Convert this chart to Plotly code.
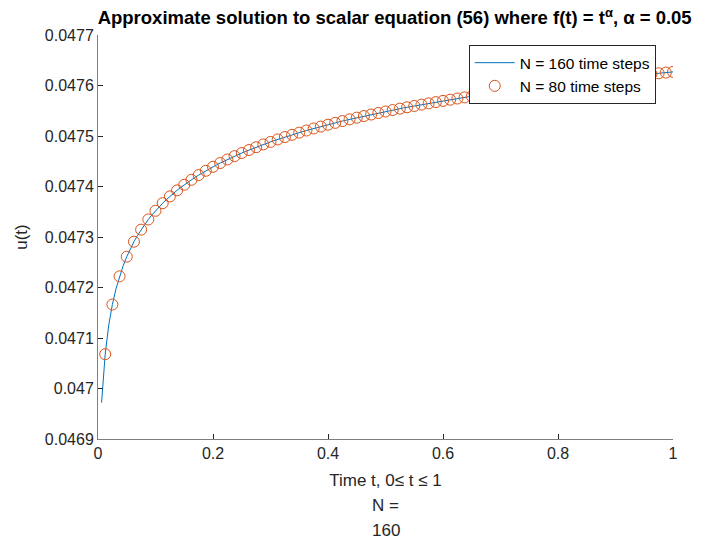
import plotly.graph_objects as go

# N = 80 time steps (circles), t = k/80, k = 1..80
t80 = [k / 80 for k in range(1, 81)]
u80 = [
    0.0470680, 0.0471663, 0.0472221, 0.0472610, 0.0472907, 0.0473146, 0.0473347, 0.0473519,
    0.0473670, 0.0473804, 0.0473924, 0.0474034, 0.0474133, 0.0474226, 0.0474311, 0.0474390,
    0.0474465, 0.0474535, 0.0474601, 0.0474663, 0.0474722, 0.0474778, 0.0474833, 0.0474883,
    0.0474932, 0.0474979, 0.0475024, 0.0475067, 0.0475109, 0.0475149, 0.0475187, 0.0475224,
    0.0475260, 0.0475296, 0.0475329, 0.0475363, 0.0475395, 0.0475425, 0.0475456, 0.0475485,
    0.0475514, 0.0475542, 0.0475569, 0.0475595, 0.0475621, 0.0475646, 0.0475671, 0.0475695,
    0.0475719, 0.0475742, 0.0475764, 0.0475787, 0.0475808, 0.0475830, 0.0475851, 0.0475871,
    0.0475891, 0.0475911, 0.0475930, 0.0475949, 0.0475967, 0.0475985, 0.0476004, 0.0476021,
    0.0476039, 0.0476056, 0.0476073, 0.0476089, 0.0476106, 0.0476121, 0.0476137, 0.0476154,
    0.0476169, 0.0476184, 0.0476199, 0.0476213, 0.0476228, 0.0476242, 0.0476256, 0.0476270,
]

# N = 160 time steps (line), t = j/160, j = 1..160
t160 = [j / 160 for j in range(1, 161)]
u160 = [
    0.0469720, 0.0470680, 0.0471260, 0.0471663, 0.0471973, 0.0472221, 0.0472431, 0.0472610,
    0.0472768, 0.0472907, 0.0473032, 0.0473146, 0.0473251, 0.0473347, 0.0473436, 0.0473519,
    0.0473596, 0.0473670, 0.0473738, 0.0473804, 0.0473865, 0.0473924, 0.0473980, 0.0474034,
    0.0474085, 0.0474133, 0.0474181, 0.0474226, 0.0474269, 0.0474311, 0.0474351, 0.0474390,
    0.0474428, 0.0474465, 0.0474500, 0.0474535, 0.0474568, 0.0474601, 0.0474632, 0.0474663,
    0.0474693, 0.0474722, 0.0474750, 0.0474778, 0.0474806, 0.0474833, 0.0474858, 0.0474883,
    0.0474908, 0.0474932, 0.0474956, 0.0474979, 0.0475002, 0.0475024, 0.0475046, 0.0475067,
    0.0475088, 0.0475109, 0.0475129, 0.0475149, 0.0475168, 0.0475187, 0.0475206, 0.0475224,
    0.0475242, 0.0475260, 0.0475278, 0.0475296, 0.0475313, 0.0475329, 0.0475346, 0.0475363,
    0.0475379, 0.0475395, 0.0475410, 0.0475425, 0.0475441, 0.0475456, 0.0475471, 0.0475485,
    0.0475500, 0.0475514, 0.0475528, 0.0475542, 0.0475556, 0.0475569, 0.0475582, 0.0475595,
    0.0475608, 0.0475621, 0.0475634, 0.0475646, 0.0475659, 0.0475671, 0.0475683, 0.0475695,
    0.0475707, 0.0475719, 0.0475731, 0.0475742, 0.0475753, 0.0475764, 0.0475776, 0.0475787,
    0.0475798, 0.0475808, 0.0475819, 0.0475830, 0.0475841, 0.0475851, 0.0475861, 0.0475871,
    0.0475881, 0.0475891, 0.0475901, 0.0475911, 0.0475921, 0.0475930, 0.0475940, 0.0475949,
    0.0475958, 0.0475967, 0.0475976, 0.0475985, 0.0475995, 0.0476004, 0.0476013, 0.0476021,
    0.0476030, 0.0476039, 0.0476048, 0.0476056, 0.0476065, 0.0476073, 0.0476081, 0.0476089,
    0.0476098, 0.0476106, 0.0476114, 0.0476121, 0.0476129, 0.0476137, 0.0476146, 0.0476154,
    0.0476162, 0.0476169, 0.0476177, 0.0476184, 0.0476192, 0.0476199, 0.0476206, 0.0476213,
    0.0476221, 0.0476228, 0.0476235, 0.0476242, 0.0476249, 0.0476256, 0.0476263, 0.0476270,
]

x_ticks = [0, 0.2, 0.4, 0.6, 0.8, 1]
x_ticklabels = ["0", "0.2", "0.4", "0.6", "0.8", "1"]
y_ticks = [0.0469, 0.0470, 0.0471, 0.0472, 0.0473, 0.0474, 0.0475, 0.0476, 0.0477]
y_ticklabels = ["0.0469", "0.047", "0.0471", "0.0472", "0.0473", "0.0474", "0.0475", "0.0476", "0.0477"]

FONT = "Liberation Sans, Arial, Helvetica, sans-serif"
AX = "#262626"

fig = go.Figure()
fig.add_trace(go.Scatter(
    x=t160, y=u160, mode="lines", name="N = 160 time steps",
    line=dict(color="#0072BD", width=1),
))
fig.add_trace(go.Scatter(
    x=t80, y=u80, mode="markers", name="N = 80 time steps",
    marker=dict(symbol="circle-open", size=11, color="#D95319", line=dict(width=1)),
))

axis_common = dict(
    showgrid=False, zeroline=False, showline=True, linecolor="#7f7f7f", linewidth=1,
    ticks="inside", ticklen=5, tickcolor=AX, tickwidth=1,
    tickfont=dict(family=FONT, size=16, color=AX),
    mirror=False,
)

fig.update_layout(
    width=701, height=546,
    margin=dict(l=98, r=28, t=35, b=107),
    paper_bgcolor="white", plot_bgcolor="white",
    title=dict(
        text="<b>Approximate solution to scalar equation (56) where f(t) = t<sup>α</sup>, α = 0.05</b>",
        font=dict(family=FONT, size=18.5, color="black"),
        x=0.563, xanchor="center", y=0.967, yanchor="middle",
    ),
    xaxis=dict(
        range=[0, 1], tickvals=x_ticks, ticktext=x_ticklabels,
        title=dict(text="Time t, 0≤ t ≤ 1", font=dict(family=FONT, size=17, color=AX), standoff=12),
        **axis_common,
    ),
    yaxis=dict(
        range=[0.0469, 0.0477], tickvals=y_ticks, ticktext=y_ticklabels,
        title=dict(text="u(t)", font=dict(family=FONT, size=17, color=AX), standoff=12),
        **axis_common,
    ),
    legend=dict(
        x=0.97, y=0.975, xanchor="right", yanchor="top",
        bgcolor="white", bordercolor="#262626", borderwidth=1,
        font=dict(family=FONT, size=15.5, color="black"),
        tracegroupgap=0, itemwidth=40,
    ),
    showlegend=True,
)

fig.add_annotation(text="N =", xref="paper", yref="paper", x=0.5, y=-0.165,
                   showarrow=False, yanchor="middle",
                   font=dict(family=FONT, size=17, color=AX))
fig.add_annotation(text="160", xref="paper", yref="paper", x=0.5, y=-0.227,
                   showarrow=False, yanchor="middle",
                   font=dict(family=FONT, size=17, color=AX))

fig.write_html("out.html")
